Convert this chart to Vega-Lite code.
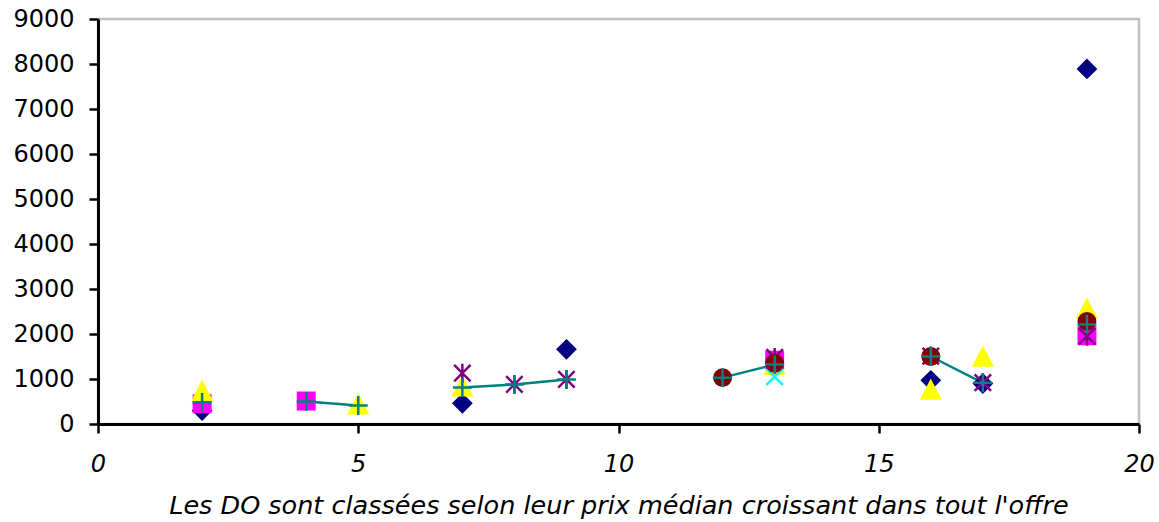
{
  "$schema": "https://vega.github.io/schema/vega-lite/v6.json",
  "width": 1041,
  "height": 405,
  "autosize": "none",
  "padding": {"left": 98, "top": 19, "right": 20, "bottom": 98},
  "background": "white",
  "config": {
    "font": "DejaVu Sans",
    "view": {"stroke": "#c0c0c0", "strokeWidth": 2.5}
  },
  "data": {
    "values": [
      {"s": "Série 1", "x": 2, "y": 300},
      {"s": "Série 1", "x": 7, "y": 460},
      {"s": "Série 1", "x": 9, "y": 1660},
      {"s": "Série 1", "x": 16, "y": 970},
      {"s": "Série 1", "x": 17, "y": 900},
      {"s": "Série 1", "x": 19, "y": 7890},
      {"s": "Série 2", "x": 2, "y": 450},
      {"s": "Série 2", "x": 4, "y": 510},
      {"s": "Série 2", "x": 13, "y": 1420},
      {"s": "Série 2", "x": 19, "y": 1960},
      {"s": "Série 3", "x": 2, "y": 720},
      {"s": "Série 3", "x": 5, "y": 420},
      {"s": "Série 3", "x": 7, "y": 820},
      {"s": "Série 3", "x": 13, "y": 1300},
      {"s": "Série 3", "x": 16, "y": 750},
      {"s": "Série 3", "x": 17, "y": 1480},
      {"s": "Série 3", "x": 19, "y": 2550},
      {"s": "Série 4", "x": 13, "y": 1050},
      {"s": "Série 5", "x": 7, "y": 1130},
      {"s": "Série 5", "x": 8, "y": 880},
      {"s": "Série 5", "x": 9, "y": 990},
      {"s": "Série 5", "x": 13, "y": 1480},
      {"s": "Série 5", "x": 16, "y": 1510},
      {"s": "Série 5", "x": 17, "y": 920},
      {"s": "Série 5", "x": 19, "y": 1950},
      {"s": "Série 6", "x": 12, "y": 1030},
      {"s": "Série 6", "x": 13, "y": 1350},
      {"s": "Série 6", "x": 16, "y": 1500},
      {"s": "Série 6", "x": 19, "y": 2280},
      {"s": "Série 7", "seg": "a", "x": 2, "y": 480},
      {"s": "Série 7", "seg": "b", "x": 4, "y": 500},
      {"s": "Série 7", "seg": "b", "x": 5, "y": 410},
      {"s": "Série 7", "seg": "c", "x": 7, "y": 810},
      {"s": "Série 7", "seg": "c", "x": 8, "y": 880},
      {"s": "Série 7", "seg": "c", "x": 9, "y": 990},
      {"s": "Série 7", "seg": "d", "x": 12, "y": 1030},
      {"s": "Série 7", "seg": "d", "x": 13, "y": 1320},
      {"s": "Série 7", "seg": "e", "x": 16, "y": 1500},
      {"s": "Série 7", "seg": "e", "x": 17, "y": 915},
      {"s": "Série 7", "seg": "f", "x": 19, "y": 2210}
    ]
  },
  "encoding": {
    "x": {
      "field": "x",
      "type": "quantitative",
      "scale": {"domain": [0, 20], "nice": false, "zero": true},
      "axis": {
        "values": [0, 5, 10, 15, 20],
        "grid": false,
        "domainColor": "black",
        "domainWidth": 3,
        "tickColor": "black",
        "tickWidth": 2.5,
        "tickSize": 9,
        "labelFont": "DejaVu Sans",
        "labelFontStyle": "italic",
        "labelFontSize": 24,
        "labelColor": "black",
        "labelPadding": 19,
        "labelDx": -7,
        "labelFlush": false,
        "title": "Les DO sont classées selon leur prix médian croissant dans tout l'offre",
        "titleFont": "DejaVu Sans",
        "titleFontStyle": "italic",
        "titleFontWeight": "normal",
        "titleFontSize": 25.5,
        "titleColor": "black",
        "titlePadding": 17,
        "titleDx": -7
      }
    },
    "y": {
      "field": "y",
      "type": "quantitative",
      "scale": {"domain": [0, 9000], "nice": false},
      "axis": {
        "values": [0, 1000, 2000, 3000, 4000, 5000, 6000, 7000, 8000, 9000],
        "grid": false,
        "domainColor": "black",
        "domainWidth": 3,
        "tickColor": "black",
        "tickWidth": 2.5,
        "tickSize": 9,
        "labelFont": "DejaVu Sans",
        "labelFontSize": 24,
        "labelColor": "black",
        "labelPadding": 15,
        "labelFlush": false,
        "format": "d",
        "title": null
      }
    }
  },
  "layer": [
    {
      "transform": [{"filter": "datum.s === 'Série 7'"}],
      "mark": {"type": "line", "color": "#008080", "strokeWidth": 2.5},
      "encoding": {"detail": {"field": "seg", "type": "nominal"}}
    },
    {
      "mark": {"type": "point", "size": 270, "opacity": 1, "strokeWidth": 2.5, "strokeCap": "butt"},
      "encoding": {
        "shape": {
          "field": "s",
          "type": "nominal",
          "legend": null,
          "scale": {
            "domain": ["Série 1", "Série 2", "Série 3", "Série 4", "Série 5", "Série 6", "Série 7"],
            "range": [
              "M0,-1.05L1.05,0L0,1.05L-1.05,0Z",
              "square",
              "M0,-1.1L1.1,1L-1.1,1Z",
              "M-1,-1L1,1M-1,1L1,-1",
              "M-1,-1L1,1M-1,1L1,-1M0,-1.15L0,1.15",
              "circle",
              "M-1.15,0L1.15,0M0,-1.15L0,1.15"
            ]
          }
        },
        "fill": {
          "field": "s",
          "type": "nominal",
          "legend": null,
          "scale": {
            "domain": ["Série 1", "Série 2", "Série 3", "Série 4", "Série 5", "Série 6", "Série 7"],
            "range": ["#000080", "#ff00ff", "#ffff00", "transparent", "transparent", "#800000", "transparent"]
          }
        },
        "stroke": {
          "field": "s",
          "type": "nominal",
          "legend": null,
          "scale": {
            "domain": ["Série 1", "Série 2", "Série 3", "Série 4", "Série 5", "Série 6", "Série 7"],
            "range": ["#000080", "#ff00ff", "#ffff00", "#00ffff", "#800080", "#800000", "#008080"]
          }
        }
      }
    }
  ]
}
